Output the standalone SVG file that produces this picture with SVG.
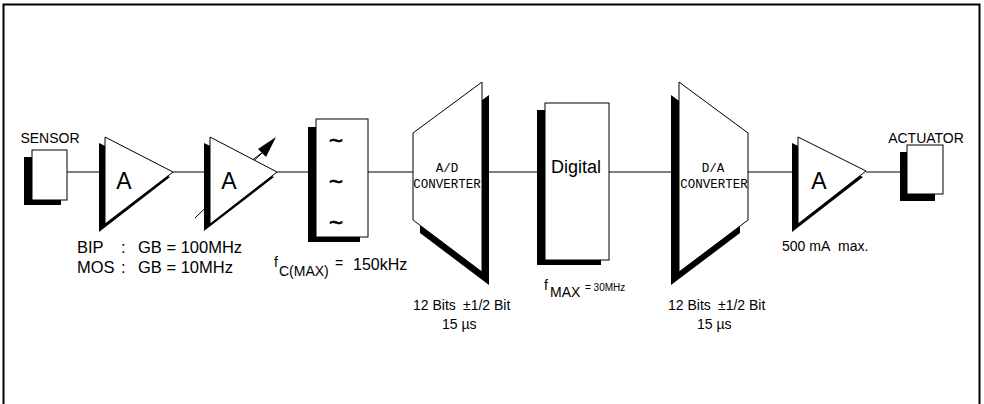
<svg xmlns="http://www.w3.org/2000/svg" width="984" height="404" viewBox="0 0 984 404">
<style>
.t{font-family:"Liberation Sans",Arial,sans-serif;fill:#000}
.m{font-family:"Liberation Mono","Courier New",monospace;fill:#000;font-size:12.5px}
.w{fill:#fff;stroke:#000;stroke-width:1}
.s{fill:#000}
.ln{stroke:#000;stroke-width:1;fill:none}
.tl{font-family:"Liberation Sans",Arial,sans-serif;fill:#000;stroke:#000;stroke-width:0.6;font-size:24px}
</style>
<rect x="0" y="0" width="984" height="404" fill="#fff"/>
<path d="M3.5,410 V4.5 H979.5 V410" fill="none" stroke="#000" stroke-width="2"/>
<g id="connectors">
<line class="ln" x1="67" y1="172" x2="105" y2="172"/>
<line class="ln" x1="173" y1="172" x2="210" y2="172"/>
<line class="ln" x1="277" y1="172" x2="316" y2="172"/>
<line class="ln" x1="368" y1="172" x2="413" y2="172"/>
<line class="ln" x1="482" y1="172" x2="545" y2="172"/>
<line class="ln" x1="609" y1="172" x2="679" y2="172"/>
<line class="ln" x1="748" y1="172" x2="798" y2="172"/>
<line class="ln" x1="866" y1="172" x2="907" y2="172"/>
</g>
<g id="sensor">
<text class="t" x="50" y="143" font-size="14" text-anchor="middle">SENSOR</text>
<rect class="s" x="24" y="157" width="37" height="48"/>
<rect class="w" x="32" y="150" width="35" height="50"/>
</g>
<g id="amp1">
<polygon class="s" points="99,143 99,232 170,177"/>
<polygon class="w" points="105,137 105,224 173,172"/>
<text class="t" x="124" y="189" font-size="23" text-anchor="middle">A</text>
<text class="t" x="77" y="253" font-size="16.5">BIP</text>
<text class="t" x="121" y="253" font-size="16.5">:</text>
<text class="t" x="138" y="253" font-size="16.5">GB = 100MHz</text>
<text class="t" x="77" y="273" font-size="16.5">MOS</text>
<text class="t" x="121" y="273" font-size="16.5">:</text>
<text class="t" x="138" y="273" font-size="16.5">GB = 10MHz</text>
</g>
<g id="amp2">
<line class="ln" x1="195" y1="218" x2="263" y2="152"/>
<polygon class="s" points="204,143 204,231 274,177"/>
<polygon class="w" points="210,137 210,224 277,172"/>
<line class="ln" x1="253" y1="159.5" x2="263" y2="152"/>
<polygon class="s" points="276,137 258,149 266,157"/>
<text class="t" x="229" y="189" font-size="23" text-anchor="middle">A</text>
</g>
<g id="filter">
<rect class="s" x="308" y="127" width="52" height="115"/>
<rect class="w" x="316" y="119" width="52" height="118"/>
<text class="tl" x="336" y="149" text-anchor="middle">~</text>
<text class="tl" x="336" y="190" text-anchor="middle">~</text>
<text class="tl" x="336" y="231" text-anchor="middle">~</text>
<text class="t" x="274" y="267" font-size="14">f</text>
<text class="t" x="279" y="276" font-size="14">C(MAX)</text>
<text class="t" x="335" y="268" font-size="14">=</text>
<text class="t" x="353" y="270" font-size="16">150kHz</text>
</g>
<g id="adc">
<polygon class="s" points="420,146 489,95 489,285 420,233"/>
<polygon class="w" points="413,133 482,82 482,272 413,220"/>
<text class="m" x="447" y="172" text-anchor="middle">A/D</text>
<text class="m" x="447" y="188" text-anchor="middle">CONVERTER</text>
<text class="t" x="413" y="310" font-size="14">12 Bits</text>
<text class="t" x="463" y="310" font-size="14">±1/2 Bit</text>
<text class="t" x="442" y="329" font-size="14">15 µs</text>
</g>
<g id="digital">
<rect class="s" x="537" y="110" width="64" height="155"/>
<rect class="w" x="545" y="103" width="64" height="157"/>
<text class="t" x="576" y="173" font-size="18" text-anchor="middle">Digital</text>
<text class="t" x="544" y="290" font-size="14">f</text>
<text class="t" x="550" y="297" font-size="14">MAX</text>
<text class="t" x="585" y="291" font-size="10">= 30MHz</text>
</g>
<g id="dac">
<polygon class="s" points="671,95 740,146 740,233 671,285"/>
<polygon class="w" points="679,82 748,133 748,220 679,272"/>
<text class="m" x="713" y="172" text-anchor="middle">D/A</text>
<text class="m" x="714" y="188" text-anchor="middle">CONVERTER</text>
<text class="t" x="668" y="310" font-size="14">12 Bits</text>
<text class="t" x="718" y="310" font-size="14">±1/2 Bit</text>
<text class="t" x="697" y="329" font-size="14">15 µs</text>
</g>
<g id="amp3">
<polygon class="s" points="792,143 792,232 863,177"/>
<polygon class="w" points="798,137 798,224 866,171"/>
<text class="t" x="819" y="189" font-size="23" text-anchor="middle">A</text>
<text class="t" x="782" y="251" font-size="14">500 mA</text>
<text class="t" x="838" y="251" font-size="14">max.</text>
</g>
<g id="actuator">
<text class="t" x="926" y="143" font-size="14" text-anchor="middle">ACTUATOR</text>
<rect class="s" x="900" y="152" width="35" height="49"/>
<rect class="w" x="907" y="145" width="36" height="49"/>
</g>
</svg>
